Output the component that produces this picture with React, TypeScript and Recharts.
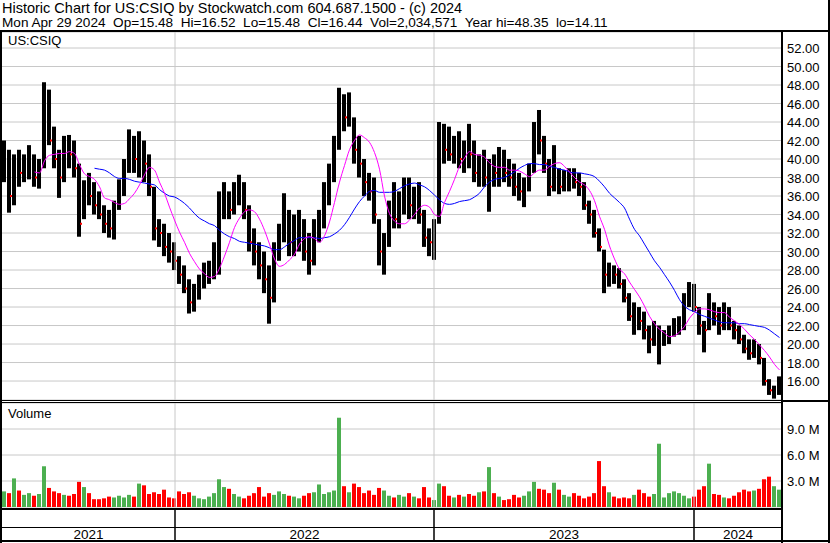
import React from 'react';
import { ComposedChart, Bar, Line, XAxis, YAxis, CartesianGrid, ReferenceLine, Cell } from 'recharts';

// weekly bars, Apr 2021 -> Apr 2024
const weekHigh = [
  42, 41, 40.5, 41, 40.5, 41.5, 40.5, 40, 48.3, 47.5,
  43.5, 41, 42.5, 42.6, 42, 39.5, 37.7, 38.5, 37.5, 36.5,
  35, 34.5, 35.5, 37.8, 40, 43.2, 42.5, 43, 42, 40.5,
  37, 33.5, 33, 32, 31, 29.5, 28.5, 27, 26.5, 27.5,
  28.8, 29, 31, 36.5, 37.5, 36.5, 37.5, 38.3, 37.5, 35,
  32.5, 31, 30, 28.5, 31, 33, 36.3, 34.5, 34, 34.5,
  33.5, 32, 33.5, 34.5, 37.5, 39.5, 42.5, 47.7, 47, 47.2,
  44.5, 42.5, 40, 38.5, 38, 33.5, 32, 35.5, 37.5, 36.5,
  38, 38, 37, 37.5, 34.5, 32.5, 33.5, 44, 43.8, 43.5,
  42.5, 43, 42, 43.8, 42, 40.5, 41, 40, 40.5, 41.3,
  41, 40, 39.5, 38.5, 38, 39.5, 44, 45.3, 42.5, 40,
  41.5, 39, 38.8, 39, 39, 38.5, 37.5, 35.5, 34.5, 32.5,
  30.2, 28.8, 28.5, 28.2, 27, 25.5, 24.5, 24, 23.5, 22,
  22.5, 22, 21.5, 22, 22.8, 23, 25.5, 26.7, 26.5, 24,
  22.5, 25.5, 24.5, 24, 24.5, 24, 22.5, 22, 21, 20.5,
  20.5, 20, 18.5, 16.2, 15.5, 16.5,
];

const weekLow = [
  37.5, 34.2, 35, 37, 37.5, 37.8, 37, 36.8, 39, 41.5,
  39, 35.8, 37.5, 39, 38, 31.6, 33.5, 35, 34, 33.5,
  32, 31.5, 31.3, 34.5, 36, 38.5, 38.5, 38, 37.5, 36,
  31.2, 30.5, 29.5, 28.8, 28, 26.5, 25.5, 23.3, 23.5, 24.8,
  26, 26.5, 27, 27.5, 33.5, 33.5, 34, 35, 33.5, 30,
  28.5, 27, 25.5, 22.2, 24.5, 29, 31, 29.5, 29.5, 30,
  29, 27.5, 28.5, 31, 32.5, 35, 37.5, 41, 43, 43.5,
  39.5, 38, 36, 35.5, 33, 28.5, 27.5, 30.5, 32.5, 32.5,
  34, 33.5, 33.5, 33, 30.5, 29.5, 29.1, 33, 39.5, 39.8,
  39.5, 39, 38.5, 39, 37.5, 37, 37, 34.3, 37, 37,
  37.5, 37, 36, 35.5, 34.8, 36.5, 38.5, 40.5, 38.5, 36,
  36.5, 36.2, 36.5, 36.5, 36.8, 36, 34.5, 33, 31.5, 30,
  25.5, 26.2, 26.5, 26, 24.5, 22.5, 21, 21.5, 20.5, 19,
  19.8, 17.8, 19.8, 20, 20.8, 21, 21.5, 24, 23.5, 21,
  19.1, 21.5, 22, 21, 21.5, 21.5, 20.5, 20, 19, 18.3,
  18.5, 17.8, 15.5, 14.5, 14.1, 14.5,
];

const weekClose = [
  40, 36, 39, 38.5, 39.5, 40, 38, 39.5, 45, 42,
  40, 38, 41, 40.5, 39, 33, 37, 36, 35, 34,
  33, 32.5, 35, 37, 39.5, 41.5, 40, 41, 39.5, 37,
  32.5, 32, 30.5, 30, 29, 27.5, 26, 24.5, 25.5, 27,
  27.5, 28.5, 30, 34.5, 35.5, 34.5, 36.5, 37, 34.5, 31,
  30, 28.5, 27, 25, 30, 32, 33, 31, 32.5, 33,
  30, 29, 32.5, 33, 36.5, 38.5, 41.5, 45, 44.5, 45,
  41, 39.5, 37.5, 36.5, 34, 30, 31, 34.5, 33.5, 35.5,
  36, 35, 36, 34, 31.5, 31, 33, 42, 41, 40.5,
  41, 40, 41.5, 40.5, 38.5, 39.5, 38, 39, 38.5, 40,
  38.5, 38, 37, 36.5, 37.5, 39, 43, 42, 39.5, 37,
  38, 37, 37.5, 38, 37.5, 37, 35, 34, 32, 30.5,
  27.5, 28, 27.5, 26.5, 25, 23, 23.5, 22.5, 21.5, 20.5,
  20.5, 21, 21, 21, 22.5, 22.5, 24.5, 26, 24, 22,
  21.5, 23.5, 23, 22, 23.5, 22, 21.5, 20.5, 19.5, 19,
  19.5, 18.5, 16, 15, 15, 16.4,
];

// daily volume, millions (largest day of the week)
const weekVolume = [
  1.8, 1.6, 3.3, 1.9, 1.4, 1.6, 1.3, 1.5, 4.7, 2.2,
  1.8, 1.6, 1.4, 1.3, 1.5, 2.9, 2.3, 1.6, 0.9, 0.9,
  1.0, 1.2, 1.1, 1.3, 1.1, 1.4, 1.2, 2.7, 2.5, 1.5,
  1.7, 1.5, 2.0, 1.1, 1.0, 1.8, 1.5, 1.7, 1.3, 1.0,
  0.9, 1.2, 1.6, 3.2, 2.3, 2.1, 1.5, 1.2, 1.0, 1.3,
  1.6, 2.3, 1.2, 1.6, 1.4, 1.8, 1.5, 1.3, 1.2, 1.0,
  1.3, 1.6, 1.7, 2.6, 1.5, 1.7, 1.9, 10.3, 2.4, 1.7,
  2.7, 2.3, 1.6, 1.9, 1.4, 2.2, 1.9, 1.3, 1.1, 1.4,
  1.2, 1.6, 1.2, 1.0, 2.3, 1.1, 0.8, 2.7, 2.4, 1.3,
  1.1, 1.4, 1.2, 1.5, 1.3, 1.7, 1.8, 4.6, 1.6, 1.2,
  0.8, 0.9, 1.4, 1.1, 1.3, 1.8, 2.9, 2.1, 2.0, 1.6,
  2.8, 2.0, 1.4, 1.2, 1.6, 1.3, 1.0, 1.2, 1.6, 5.3,
  2.4, 1.7, 1.2, 1.0, 1.1, 1.0, 1.4, 2.0, 1.6, 1.2,
  1.5, 7.3, 1.1, 1.6, 1.8, 1.6, 1.3, 1.0, 1.2, 2.0,
  2.4, 5.0, 1.5, 1.4, 1.1, 1.0, 1.3, 1.7, 2.0, 1.8,
  1.9, 2.1, 3.2, 3.5, 2.4, 2.0,
];

// magenta average, starts at week 6
const FAST_START = 6;
const maFast = [
  38.6, 38.5, 39.8, 40.4, 40.5, 40.6, 40.6, 40.8, 40.6, 39.4,
  38.4, 38.1, 37.8, 37, 35.8, 35.6, 35.3, 35.1, 35.2, 35.7,
  36.3, 37.2, 38.3, 39.1, 38.8, 37.5, 36.3, 34.8, 33.4, 32.1,
  31, 29.8, 28.9, 28.1, 27.6, 27.2, 27.3, 28.2, 29.5, 31,
  32.6, 33.6, 34.3, 34.5, 34.3, 33.5, 32.3, 30.8, 29.2, 28.4,
  28.6, 29.1, 29.7, 30.8, 31.4, 31.6, 31.4, 31, 31.7, 33.2,
  35.3, 37.5, 39.3, 41, 42, 42.6, 42.3, 41.8, 40.7, 38.9,
  36, 34.1, 33.3, 33, 33, 33.4, 34, 34.7, 35, 34.8,
  34, 33.8, 35.3, 36.5, 37.8, 39.2, 40.1, 40.8, 40.5, 40.4,
  40.2, 39.6, 39.2, 39.1, 39.1, 38.8, 38.8, 38.7, 38.4, 38.1,
  38.5, 38.8, 38.8, 39.2, 39.5, 39.6, 39.2, 38.6, 38, 37.5,
  37.2, 36.6, 35.5, 33.8, 32.4, 30.6, 29.2, 28.1, 27.6, 26.7,
  25.9, 25.1, 24.1, 23, 22.2, 21.6, 21.2, 20.8, 20.9, 21.3,
  21.9, 22.8, 23.4, 23.8, 23.8, 23.7, 23.5, 23.4, 23.4, 22.9,
  22.5, 22.1, 21.6, 21, 20.5, 19.9, 19.3, 18.6, 17.8, 17.2,
];

// blue average, starts at week 18
const SLOW_START = 18;
const maSlow = [
  39, 38.9, 38.8, 38.5, 38.1, 37.9, 37.9, 37.8, 37.6, 37.5,
  37.4, 37.3, 37.2, 36.7, 36.3, 36, 35.9, 35.6, 35.2, 34.7,
  34.1, 33.6, 33.3, 33, 32.8, 32.3, 31.9, 31.6, 31.4, 31.1,
  31, 30.9, 30.8, 30.7, 30.6, 30.4, 30.2, 30.2, 30.5, 30.9,
  31.2, 31.5, 31.5, 31.5, 31.5, 31.4, 31.5, 31.6, 31.9, 32.3,
  32.9, 33.7, 34.6, 35.4, 36, 36.5, 36.6, 36.4, 36.4, 36.4,
  36.5, 36.8, 37.1, 37.3, 37.4, 37.2, 37, 36.6, 36.1, 35.6,
  35.2, 35.1, 35.2, 35.4, 35.5, 35.6, 35.9, 36.3, 37, 37.5,
  37.8, 37.9, 38, 38.3, 38.6, 39, 39.3, 39.5, 39.5, 39.4,
  39.4, 39.2, 39.1, 38.9, 38.8, 38.6, 38.5, 38.5, 38.4, 38.3,
  38.1, 37.6, 37, 36.3, 35.8, 35.3, 34.7, 33.5, 32.4, 31.7,
  30.8, 29.9, 29, 28.3, 27.5, 26.7, 25.8, 24.8, 24.1, 23.7,
  23.5, 23.2, 23, 22.8, 22.6, 22.4, 22.3, 22.3, 22.3, 22.2,
  22.2, 22.1, 22, 21.9, 21.8, 21.5, 21.1, 20.7,
];

const priceTicks = [16, 18, 20, 22, 24, 26, 28, 30, 32, 34, 36, 38, 40, 42, 44, 46, 48, 50, 52];
const volumeTicks = [3, 6, 9];
const yearLabels = ['2021', '2022', '2023', '2024'];
// first week of each new year (fractional week index)
const yearBoundaries = [34.1, 85.9, 137.9];

const X_DOMAIN: [number, number] = [-0.5, weekHigh.length - 0.5];
const yearEdges = [X_DOMAIN[0], ...yearBoundaries, X_DOMAIN[1]];
const yearMids = yearLabels.map((_, i) => (yearEdges[i] + yearEdges[i + 1]) / 2);

const rows = weekHigh.map((hi, i) => ({
  i,
  hi,
  lo: weekLow[i],
  cl: weekClose[i],
  range: [weekLow[i], hi],
  up: i === 0 ? true : weekClose[i] >= weekClose[i - 1],
  fast: i >= FAST_START ? maFast[i - FAST_START] : null,
  slow: i >= SLOW_START ? maSlow[i - SLOW_START] : null,
  vol: weekVolume[i],
}));

const FONT = '"Liberation Sans", Arial, sans-serif';
const GRID = '#c8c8c8';
const GREEN = '#4caf50';
const RED = '#ff0000';

const PriceBar = (props: any) => {
  const { x, y, width, height, payload } = props;
  const span = payload.hi - payload.lo || 1;
  const cy = y + ((payload.hi - payload.cl) / span) * height;
  return (
    <g>
      <rect x={x} y={y} width={width} height={Math.max(height, 1)} fill="#000" />
      {!payload.up && <rect x={x + width - 1} y={cy - 1} width={2} height={2} fill={RED} />}
    </g>
  );
};

const PriceTick = ({ x, y, payload }: any) => (
  <text x={x + 5} y={y} dy={5} fontSize={13} fontFamily={FONT} fill="#000">
    {Number(payload.value).toFixed(2)}
  </text>
);

const VolumeTick = ({ x, y, payload }: any) => (
  <text x={x + 5} y={y} dy={5} fontSize={13} fontFamily={FONT} fill="#000">
    {Number(payload.value).toFixed(1) + ' M'}
  </text>
);

const DateTick = ({ x, y, payload }: any) => {
  const v = payload.value;
  if (yearBoundaries.indexOf(v) >= 0) {
    return <line x1={x} x2={x} y1={y + 1} y2={y + 34} stroke="#000" strokeWidth={1.5} />;
  }
  const idx = yearMids.indexOf(v);
  return (
    <text x={x} y={y + 32} textAnchor="middle" fontSize={13.5} fontFamily={FONT} fill="#000">
      {yearLabels[idx]}
    </text>
  );
};

const hline = (top: number, h: number, left = 0, width = 830) => (
  <div style={{ position: 'absolute', top, left, width, height: h, background: '#000' }} />
);
const vline = (left: number, w: number, top: number, height: number) => (
  <div style={{ position: 'absolute', top, left, width: w, height, background: '#000' }} />
);

export default function App() {
  return (
    <div style={{ position: 'absolute', left: 0, top: 0, width: 830, height: 543, background: '#fff', fontFamily: FONT, overflow: 'hidden' }}>
      <div style={{ position: 'absolute', left: 2, top: 1, fontSize: 14.5, lineHeight: '15px', whiteSpace: 'pre', color: '#000' }}>
        Historic Chart for US:CSIQ by Stockwatch.com 604.687.1500 - (c) 2024
      </div>
      <div style={{ position: 'absolute', left: 2, top: 15, fontSize: 13.6, lineHeight: '15px', whiteSpace: 'pre', color: '#000' }}>
        {'Mon Apr 29 2024  Op=15.48  Hi=16.52  Lo=15.48  Cl=16.44  Vol=2,034,571  Year hi=48.35  lo=14.11'}
      </div>

      <div style={{ position: 'absolute', left: 0, top: 0 }}>
        <ComposedChart width={830} height={400} data={rows} margin={{ top: 32, right: 0, bottom: 0, left: 2 }}>
          <CartesianGrid stroke={GRID} vertical={false} />
          <XAxis dataKey="i" type="number" domain={X_DOMAIN} hide allowDataOverflow />
          <YAxis
            orientation="right"
            domain={[13.95, 53.73]}
            ticks={priceTicks}
            width={48}
            axisLine={false}
            tickLine={false}
            tickSize={0}
            tickMargin={0}
            tick={<PriceTick />}
            interval={0}
            allowDataOverflow
          />
          {yearBoundaries.map((b) => (
            <ReferenceLine key={b} x={b} stroke={GRID} />
          ))}
          <Bar dataKey="range" barSize={4} shape={<PriceBar />} isAnimationActive={false} />
          <Line type="monotone" dataKey="slow" stroke="#0000ff" strokeWidth={1} dot={false} activeDot={false} isAnimationActive={false} />
          <Line type="monotone" dataKey="fast" stroke="#ff00ff" strokeWidth={1} dot={false} activeDot={false} isAnimationActive={false} />
        </ComposedChart>
      </div>

      <div style={{ position: 'absolute', left: 0, top: 403 }}>
        <ComposedChart width={830} height={138} data={rows} margin={{ top: 0, right: 0, bottom: 0, left: 2 }}>
          <CartesianGrid stroke={GRID} vertical={false} />
          <XAxis
            dataKey="i"
            type="number"
            domain={X_DOMAIN}
            ticks={[...yearBoundaries, ...yearMids]}
            interval={0}
            height={34}
            axisLine={false}
            tickLine={false}
            tickSize={0}
            tickMargin={0}
            tick={<DateTick />}
            allowDataOverflow
          />
          <YAxis
            orientation="right"
            domain={[0, 12]}
            ticks={volumeTicks}
            width={48}
            axisLine={false}
            tickLine={false}
            tickSize={0}
            tickMargin={0}
            tick={<VolumeTick />}
            interval={0}
            allowDataOverflow
          />
          {yearBoundaries.map((b) => (
            <ReferenceLine key={b} x={b} stroke={GRID} />
          ))}
          <Bar dataKey="vol" barSize={4} isAnimationActive={false}>
            {rows.map((r) => (
              <Cell key={r.i} fill={r.up ? GREEN : RED} />
            ))}
          </Bar>
        </ComposedChart>
      </div>

      <div style={{ position: 'absolute', left: 8, top: 33, fontSize: 13, color: '#000' }}>US:CSIQ</div>
      <div style={{ position: 'absolute', left: 8, top: 406, fontSize: 13, color: '#000' }}>Volume</div>

      {/* frame */}
      {hline(30, 2)}
      {vline(0, 2, 30, 513)}
      {vline(828, 2, 0, 543)}
      {vline(781, 2, 30, 513)}
      {hline(400, 1, 0, 783)}
      {hline(402, 1, 0, 783)}
      {hline(400, 2, 781, 49)}
      {hline(508, 2, 0, 783)}
      {hline(527, 1, 0, 783)}
      {hline(540, 2, 0, 830)}
    </div>
  );
}
